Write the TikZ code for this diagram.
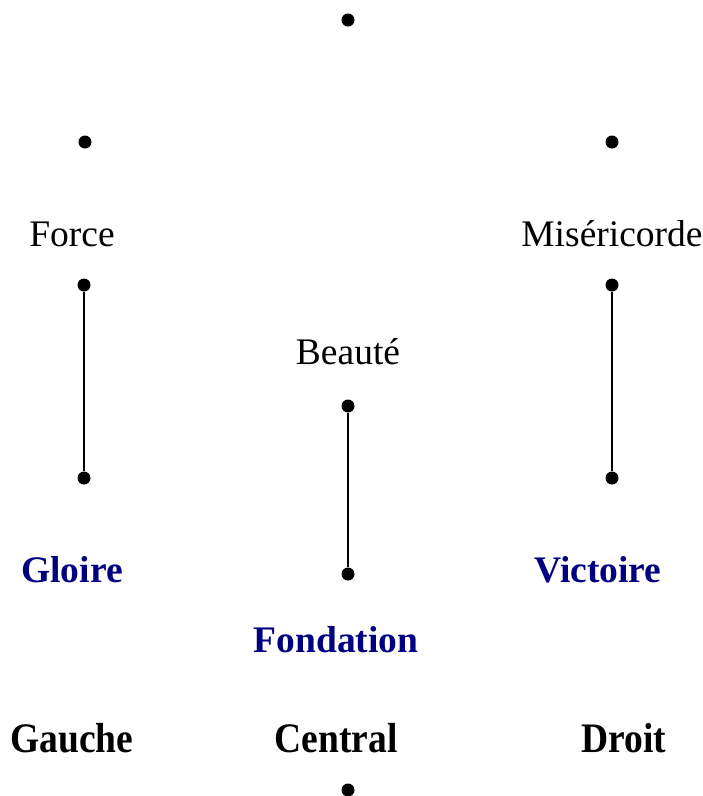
\documentclass[tikz,border=0pt]{standalone}
\usepackage{fontspec}
\setmainfont{Liberation Serif}
\definecolor{navyblue}{RGB}{0,0,128}
\begin{document}
\begin{tikzpicture}[x=1pt,y=-1pt,
  pt/.style={circle,fill=black,inner sep=0pt,minimum size=13pt},
  lbl/.style={font=\fontsize{37.5}{42}\selectfont,inner sep=0pt},
  blbl/.style={font=\fontsize{37.5}{42}\selectfont\bfseries,text=navyblue,inner sep=0pt},
  klbl/.style={font=\fontsize{37.5}{42}\selectfont\bfseries,inner sep=0pt},
  link/.style={line width=2pt}]
\useasboundingbox (0,0) rectangle (703,796);
\node[pt] (top) at (348,20) {};
\node[pt] (l1) at (85,142) {};
\node[pt] (r1) at (612,142) {};
\node[lbl] (force) at (72,234) {Force};
\node[lbl] (mis) at (612,234) {Miséricorde};
\node[pt] (l2) at (84,285) {};
\node[pt] (l3) at (84,478) {};
\node[pt] (r2) at (612,285) {};
\node[pt] (r3) at (612,478) {};
\node[lbl] (beaute) at (348,352) {Beauté};
\node[pt] (c1) at (348,406) {};
\node[pt] (c2) at (348,574) {};
\node[blbl] (gloire) at (72,570) {Gloire};
\node[blbl] (victoire) at (598,570) {Victoire};
\node[blbl] (fond) at (336,640) {Fondation};
\node[klbl] (gauche) at (72,738) {\scalebox{1}[1.12]{Gauche}};
\node[klbl] (central) at (336,738) {\scalebox{1}[1.12]{Central}};
\node[klbl] (droit) at (624,738) {\scalebox{1}[1.12]{Droit}};
\node[pt] (bot) at (348,790) {};
\draw[link] (l2) -- (l3);
\draw[link] (r2) -- (r3);
\draw[link] (c1) -- (c2);
\end{tikzpicture}
\end{document}
